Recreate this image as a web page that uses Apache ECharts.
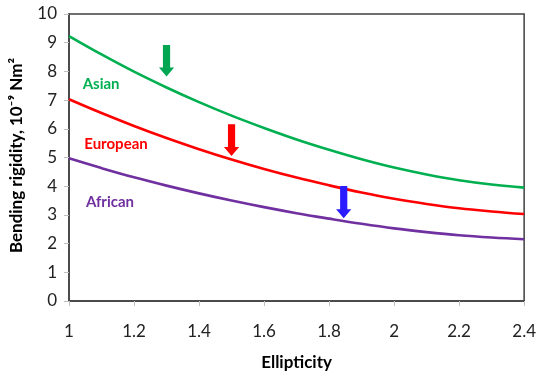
<!DOCTYPE html>
<html><head><meta charset="utf-8">
<script src="https://cdn.jsdelivr.net/npm/echarts@6/dist/echarts.min.js"></script>
<style>html,body{margin:0;padding:0;background:#fff}#c{width:539px;height:376px}</style>
</head><body><div id="c"></div>
<script>
const ellipticity = [1.0,1.1,1.2,1.3,1.4,1.5,1.6,1.7,1.8,1.9,2.0,2.1,2.2,2.3,2.4];
const asian    = [9.23,8.59,7.99,7.44,6.93,6.46,6.03,5.63,5.27,4.94,4.65,4.41,4.21,4.06,3.95];
const european = [7.03,6.55,6.10,5.68,5.29,4.93,4.60,4.30,4.03,3.78,3.56,3.38,3.23,3.12,3.03];
const african  = [4.97,4.63,4.31,4.02,3.75,3.50,3.27,3.06,2.87,2.69,2.53,2.40,2.29,2.21,2.15];
const xTicks = [1,1.2,1.4,1.6,1.8,2,2.2,2.4];
const yTicks = [0,1,2,3,4,5,6,7,8,9,10];
// arrows: [x, yTop, yTip]
const arrowAsian = [1.30, 8.92, 7.82];
const arrowEuropean = [1.50, 6.16, 5.05];
const arrowAfrican = [1.845, 4.01, 2.88];
// labels: [x, y, text]
const labelAsian = [1.042, 7.55, 'Asian'];
const labelEuropean = [1.047, 5.46, 'European'];
const labelAfrican = [1.052, 3.46, 'African'];

const C_GREEN = '#00B050', C_RED = '#FF0000', C_PURPLE = '#7030A0';
const FONT = 'Lato, "Open Sans", sans-serif';

function pairs(ys){ return ellipticity.map((x,i)=>[x, ys[i]]); }

function lineSeries(name, ys, color){
  return {name, type:'line', data:pairs(ys), smooth:0.4, showSymbol:false,
    lineStyle:{color, width:2.6}, z:3};
}

const arrows = [
  arrowAsian.concat(['#00A651']),
  arrowEuropean.concat(['#FF0000']),
  arrowAfrican.concat(['#2B1BFF'])
];

const labels = [labelAsian.concat([C_GREEN]), labelEuropean.concat([C_RED]), labelAfrican.concat([C_PURPLE])];

const chart = echarts.init(document.getElementById('c'), null, {renderer:'canvas'});
chart.setOption({
  animation:false,
  backgroundColor:'#fff',
  grid:{left:69, right:14, top:14, bottom:75, show:true, borderColor:'#404040', borderWidth:1.5, backgroundColor:'transparent'},
  xAxis:{type:'value', min:1, max:2.4, interval:0.2,
    name:'Ellipticity', nameLocation:'middle', nameGap:53,
    nameTextStyle:{fontFamily:FONT, fontWeight:'bold', fontSize:17, color:'#000'},
    axisLine:{show:true, onZero:false, lineStyle:{color:'#404040', width:1.5}},
    axisTick:{show:true, length:5, lineStyle:{color:'#bfbfbf'}},
    splitLine:{show:false},
    axisLabel:{fontFamily:FONT, fontSize:17, color:'#222', margin:22,
      formatter:v=>{ const t = xTicks.find(k=>Math.abs(k-v)<1e-6); return t===undefined?'':String(t);} }
  },
  yAxis:{type:'value', min:0, max:10, interval:1,
    name:'Bending rigidity, 10\u207B\u2079 Nm\u00B2', nameLocation:'middle', nameGap:44,
    nameTextStyle:{fontFamily:FONT, fontWeight:'bold', fontSize:17, color:'#000', padding:[0,0,0,4]},
    axisLine:{show:true, lineStyle:{color:'#404040', width:1.5}},
    axisTick:{show:true, length:5, lineStyle:{color:'#bfbfbf'}},
    splitLine:{show:false},
    axisLabel:{fontFamily:FONT, fontSize:17, color:'#222', margin:12,
      formatter:v=>{ const t = yTicks.find(k=>Math.abs(k-v)<1e-6); return t===undefined?'':String(t);} }
  },
  series:[
    lineSeries('Asian', asian, C_GREEN),
    lineSeries('European', european, C_RED),
    lineSeries('African', african, C_PURPLE),
    {type:'custom', data:arrows, z:5,
      renderItem:(params, api)=>{
        const top = api.coord([api.value(0), api.value(1)]);
        const tip = api.coord([api.value(0), api.value(2)]);
        const cx = top[0], sw = 3.6, hw = 7.6, hl = 9;
        const color = arrows[params.dataIndex][3];
        return {type:'polygon', shape:{points:[
          [cx-sw, top[1]], [cx+sw, top[1]], [cx+sw, tip[1]-hl], [cx+hw, tip[1]-hl],
          [cx, tip[1]], [cx-hw, tip[1]-hl], [cx-sw, tip[1]-hl]
        ]}, style:{fill:color}};
      }
    },
    {type:'custom', data:labels, z:6,
      renderItem:(params, api)=>{
        const p = api.coord([api.value(0), api.value(1)]);
        const d = labels[params.dataIndex];
        return {type:'text', style:{x:p[0], y:p[1], text:d[2], fill:d[3],
          font:'bold 15px ' + FONT, textAlign:'left', textVerticalAlign:'middle'}};
      }
    }
  ]
});
</script></body></html>
